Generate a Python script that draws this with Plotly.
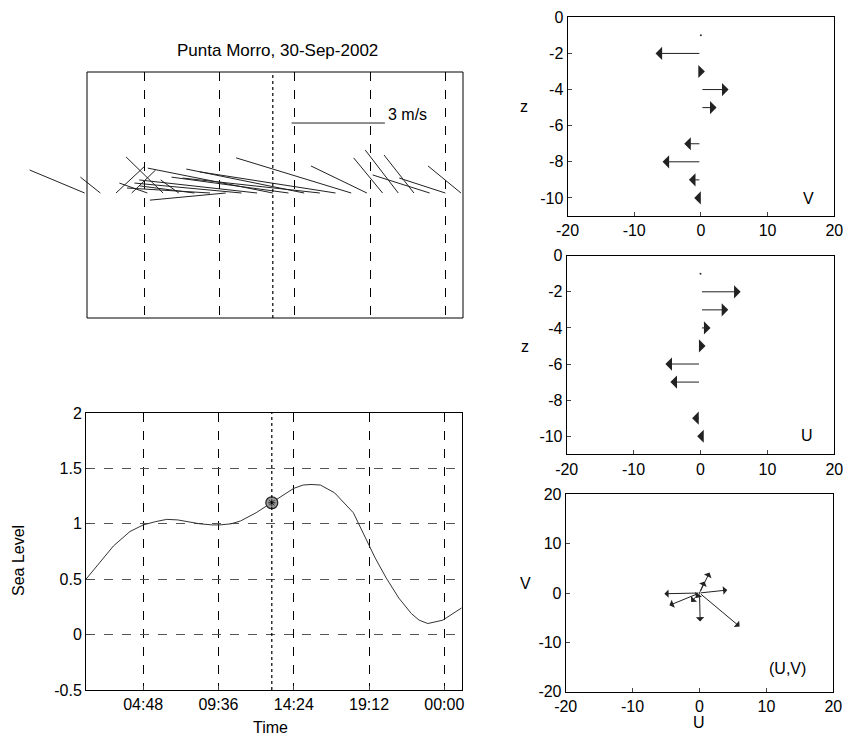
import plotly.graph_objects as go

W, H = 846, 738
FONT = "Liberation Sans, Arial, sans-serif"

# ---------------- data ----------------
# hourly current sticks (m/s), hours since 00:00
stick_hours = list(range(1, 26))
stick_u = [-1.77, -0.64, 0.90, 0.77, -0.90, -1.19, -0.58, -1.77, -2.67, -2.44,
           -3.44, -3.79, -4.02, -3.76, -3.79, -4.41, -4.37, -3.70, -1.80, -0.93,
           -1.06, -0.96, -1.83, -1.48, -1.06]
stick_v = [0.74, 0.51, 0.84, 0.74, 0.32, 1.16, 0.42, 0.23, 0.16, -0.23,
           0.32, 0.42, 0.80, 0.51, 0.77, 0.48, 0.68, 1.13, 0.87, 1.13,
           1.38, 1.22, 0.58, 0.48, 0.87]
scale_speed = 3  # m/s reference bar

# sea level (m)
sl_time = [1.15, 2.0, 2.9, 3.95, 4.8, 5.6, 6.3, 7.0, 7.6, 8.4, 9.2, 9.7, 10.4, 11.0,
           12.0, 13.0, 13.8, 14.4, 15.0, 15.5, 16.1, 17.0, 18.2, 19.0, 19.6, 20.3,
           21.1, 21.9, 22.4, 22.95, 23.9, 25.1]
sl_level = [0.50, 0.65, 0.80, 0.93, 0.99, 1.02, 1.04, 1.035, 1.02, 1.0, 0.99, 0.99,
            1.0, 1.025, 1.10, 1.19, 1.27, 1.32, 1.35, 1.355, 1.35, 1.28, 1.10, 0.86,
            0.69, 0.51, 0.33, 0.19, 0.13, 0.10, 0.13, 0.24]
now_time = 13.0
now_level = 1.19

time_tickvals = [4.8, 9.6, 14.4, 19.2, 24.0]
time_ticktext = ["04:48", "09:36", "14:24", "19:12", "00:00"]
level_tickvals = [-0.5, 0, 0.5, 1, 1.5, 2]
level_ticktext = ["-0.5", "0", "0.5", "1", "1.5", "2"]

# current profile
depths = [-1, -2, -3, -4, -5, -6, -7, -8, -9, -10]
prof_u = [0.0, 6.0, 4.15, 1.5, 0.75, -5.25, -4.5, 0.1, -1.25, -0.5]
prof_v = [0.0, -6.8, 0.6, 4.15, 2.35, -0.15, -2.5, -5.75, -1.8, -1.0]

z_tickvals = [0, -2, -4, -6, -8, -10]
z_ticktext = ["0", "-2", "-4", "-6", "-8", "-10"]
vel_tickvals = [-20, -10, 0, 10, 20]
vel_ticktext = ["-20", "-10", "0", "10", "20"]

title_text = "Punta Morro, 30-Sep-2002"

# ---------------- layout geometry (pixels) ----------------
def fx(p):
    return p / W

def fy(p):
    return 1 - p / H

PX_PER_H = 15.68          # pixels per hour on the time axes
PX_PER_MS = 31.1          # pixels per m/s in stick panel
H_PER_MS = PX_PER_MS / PX_PER_H
T0, T1 = 1.15, 25.13      # time range of the boxes

stick_dom = (15, 470)
stick_box_l = 87
t_lo = T0 - (stick_box_l - stick_dom[0]) / PX_PER_H
t_hi = T0 + (stick_dom[1] - stick_box_l) / PX_PER_H
y_top_px, y_bot_px, base_px = 72, 318, 193
s_hi = (base_px - y_top_px) / PX_PER_MS
s_lo = -(y_bot_px - base_px) / PX_PER_MS

fig = go.Figure()

# sticks
sx, sy = [], []
for t, u, v in zip(stick_hours, stick_u, stick_v):
    sx += [t, t + u * H_PER_MS, None]
    sy += [0, v, None]
fig.add_trace(go.Scatter(x=sx, y=sy, mode="lines", line=dict(color="#222", width=1),
                         xaxis="x", yaxis="y", hoverinfo="skip", showlegend=False))
# scale bar
sb_t = 14.2
fig.add_trace(go.Scatter(x=[sb_t, sb_t + scale_speed * H_PER_MS], y=[2.25, 2.25], mode="lines",
                         line=dict(color="#222", width=1), xaxis="x", yaxis="y",
                         hoverinfo="skip", showlegend=False))
fig.add_annotation(x=sb_t + scale_speed * H_PER_MS, y=2.25, xref="x", yref="y",
                   text=f"{scale_speed} m/s", showarrow=False, xanchor="left", yanchor="bottom",
                   xshift=1, yshift=-2, font=dict(size=16, family=FONT, color="black"))

# sea level
fig.add_trace(go.Scatter(x=sl_time, y=sl_level, mode="lines", line=dict(color="#333", width=1),
                         xaxis="x2", yaxis="y2", hoverinfo="skip", showlegend=False))
fig.add_trace(go.Scatter(x=[now_time], y=[now_level], mode="markers",
                         marker=dict(size=12, color="#999", symbol="circle",
                                     line=dict(color="#222", width=1.2)),
                         xaxis="x2", yaxis="y2", hoverinfo="skip", showlegend=False))
fig.add_trace(go.Scatter(x=[now_time], y=[now_level], mode="markers",
                         marker=dict(size=6, color="#222", symbol="asterisk-open",
                                     line=dict(color="#222", width=1)),
                         xaxis="x2", yaxis="y2", hoverinfo="skip", showlegend=False))

# profile arrows
def add_arrow(xr, yr, x0, y0, x1, y1, size):
    if x0 == x1 and y0 == y1:
        fig.add_trace(go.Scatter(x=[x0], y=[y0], mode="markers",
                                 marker=dict(size=2, color="#333"), xaxis=xr, yaxis=yr,
                                 hoverinfo="skip", showlegend=False))
        return
    fig.add_annotation(x=x1, y=y1, ax=x0, ay=y0, xref=xr, yref=yr, axref=xr, ayref=yr,
                       showarrow=True, arrowhead=1, arrowsize=size, arrowwidth=1,
                       arrowcolor="#222", text="")

for z, v in zip(depths, prof_v):
    add_arrow("x3", "y3", 0, z, v, z, 2.2)
for z, u in zip(depths, prof_u):
    add_arrow("x4", "y4", 0, z, u, z, 2.2)
for u, v in zip(prof_u, prof_v):
    add_arrow("x5", "y5", 0, 0, u, v, 1.4)

# ---------------- axes ----------------
tickfont = dict(size=16, family=FONT, color="black")
box = dict(showline=True, linecolor="black", linewidth=1, mirror=True, zeroline=False,
           showgrid=False, automargin=False)

lay = dict(
    width=W, height=H, margin=dict(l=0, r=0, t=0, b=0, autoexpand=False),
    paper_bgcolor="white", plot_bgcolor="white", showlegend=False,
    font=dict(family=FONT, size=16, color="black"),
    xaxis=dict(domain=[fx(stick_dom[0]), fx(stick_dom[1])], range=[t_lo, t_hi],
               showline=False, zeroline=False, showticklabels=False, ticks="",
               tickvals=time_tickvals, showgrid=True, gridcolor="black", griddash="dash",
               gridwidth=1, automargin=False),
    yaxis=dict(domain=[fy(y_bot_px), fy(y_top_px)], range=[s_lo, s_hi], showline=False,
               zeroline=False, showticklabels=False, ticks="", showgrid=False,
               automargin=False),
    xaxis2=dict(domain=[fx(86), fx(462)], range=[T0, T1], anchor="y2",
                tickvals=time_tickvals, ticktext=time_ticktext, ticks="inside", ticklen=4,
                tickfont=tickfont, showline=True, linecolor="black", mirror=True,
                zeroline=False, showgrid=True, gridcolor="black", griddash="dash", gridwidth=1,
                automargin=False),
    yaxis2=dict(domain=[fy(690), fy(413)], range=[-0.5, 2], anchor="x2",
                tickvals=level_tickvals, ticktext=level_ticktext, ticks="inside", ticklen=4,
                tickfont=tickfont, showline=True, linecolor="black", mirror=True,
                zeroline=False, showgrid=True, gridcolor="#555", griddash="dash", gridwidth=1,
                automargin=False),
)
right_axes = {
    3: ((567.5, 834.3), (17.3, 216), [-11, 0], z_tickvals, z_ticktext),
    4: ((566.7, 834.3), (255.7, 454.3), [-11, 0], z_tickvals, z_ticktext),
    5: ((565.7, 833.3), (494.3, 691.7), [-20, 20], vel_tickvals, vel_ticktext),
}
for i, (xd, yd, yr, ytv, ytt) in right_axes.items():
    lay[f"xaxis{i}"] = dict(domain=[fx(xd[0]), fx(xd[1])], range=[-20, 20], anchor=f"y{i}",
                            tickvals=vel_tickvals, ticktext=vel_ticktext, ticks="inside",
                            ticklen=4, tickfont=tickfont, **box)
    lay[f"yaxis{i}"] = dict(domain=[fy(yd[1]), fy(yd[0])], range=yr, anchor=f"x{i}",
                            tickvals=ytv, ticktext=ytt, ticks="inside", ticklen=4,
                            tickfont=tickfont, **box)
fig.update_layout(**lay)

# stick panel box and current-time lines
fig.add_shape(type="rect", xref="x", yref="y domain", x0=T0, x1=T1, y0=0, y1=1,
              line=dict(color="black", width=1))
fig.add_shape(type="line", xref="x", yref="y domain", x0=now_time, x1=now_time, y0=0, y1=1,
              line=dict(color="black", width=1.2, dash="dot"))
fig.add_shape(type="line", xref="x2", yref="y2 domain", x0=now_time, x1=now_time, y0=0, y1=1,
              line=dict(color="black", width=1.2, dash="dot"))

# texts
def ptext(x, y, s, size=16, angle=0):
    fig.add_annotation(x=fx(x), y=fy(y), xref="paper", yref="paper", text=s, showarrow=False,
                       xanchor="center", yanchor="middle", textangle=angle,
                       font=dict(size=size, family=FONT, color="black"))

ptext(277, 50, title_text, 17)
ptext(270, 727, "Time")
ptext(18, 561, "Sea Level", 16, -90)
ptext(524, 107, "z")
ptext(525, 347, "z")
ptext(525, 583, "V")
ptext(699, 722, "U")
ptext(808, 198, "V")
ptext(807, 435, "U")
ptext(787, 668, "(U,V)")

fig.write_html(
    "out.html",
    config={"displayModeBar": False},
    post_script="document.body.style.margin='0px';document.body.style.overflow='hidden';",
)
